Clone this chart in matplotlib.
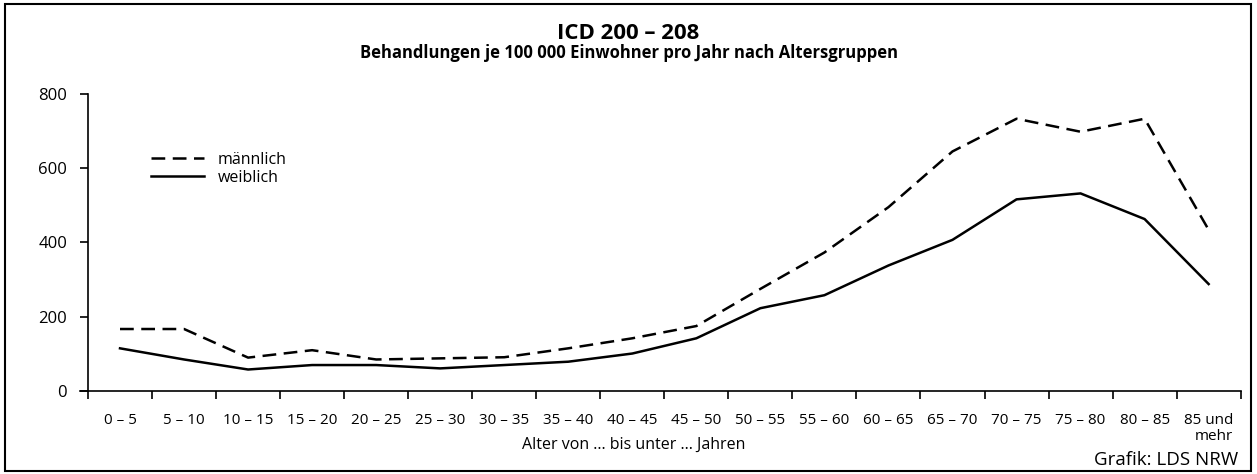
import matplotlib
matplotlib.use("Agg")
import matplotlib.pyplot as plt
from matplotlib.patches import Rectangle
import numpy as np

plt.rcParams['font.family'] = ['Open Sans', 'DejaVu Sans']

categories = ["0 – 5", "5 – 10", "10 – 15", "15 – 20", "20 – 25", "25 – 30",
              "30 – 35", "35 – 40", "40 – 45", "45 – 50", "50 – 55", "55 – 60",
              "60 – 65", "65 – 70", "70 – 75", "75 – 80", "80 – 85", "85 und\nmehr"]
maennlich = [167, 167, 90, 110, 85, 88, 91, 115, 142, 175, 275, 373,
             495, 645, 733, 698, 733, 434]
weiblich = [115, 85, 58, 70, 70, 61, 70, 79, 101, 142, 223, 258,
            338, 407, 516, 532, 463, 288]
yticks = [0, 200, 400, 600, 800]

fig = plt.figure(figsize=(12.57, 4.74), dpi=100)
ax = fig.add_axes([0.070, 0.175, 0.917, 0.627])

x = np.arange(len(categories)) + 0.5
ax.plot(x, maennlich, color='black', lw=1.8, linestyle=(0, (5.5, 3)), label='männlich')
ax.plot(x, weiblich, color='black', lw=1.8, linestyle='-', label='weiblich')

ax.set_xlim(0, len(categories))
ax.set_ylim(0, 800)
ax.set_yticks(yticks)
ax.set_yticklabels([str(v) for v in yticks], fontsize=12)
ax.set_xticks(np.arange(len(categories) + 1))
ax.set_xticklabels([])
ax.set_xticks(x, minor=True)
ax.set_xticklabels(categories, minor=True, fontsize=11, multialignment='right',
                   va='top', linespacing=1.05)
ax.tick_params(axis='x', which='minor', length=0, pad=16)
ax.tick_params(axis='x', which='major', length=6, width=1.2, direction='out')
ax.tick_params(axis='y', length=6, width=1.2, pad=9)

for s in ['top', 'right']:
    ax.spines[s].set_visible(False)
ax.spines['left'].set_linewidth(1.2)
ax.spines['bottom'].set_linewidth(1.2)
ax.spines['bottom'].set_bounds(-0.12, len(categories))

fig.text(0.504, 0.061, "Alter von ... bis unter ... Jahren", ha='center', va='center',
         fontsize=11.5)

ax.legend(loc='upper left', bbox_to_anchor=(0.115, 0.693), bbox_transform=fig.transFigure,
          frameon=False, fontsize=11.5, handlelength=3.3, handletextpad=0.9,
          labelspacing=0.12, borderaxespad=0)

fig.text(0.5, 0.930, "ICD 200 – 208", ha='center', va='center', fontsize=16,
         fontweight='bold')
fig.text(0.5, 0.888, "Behandlungen je 100 000 Einwohner pro Jahr nach Altersgruppen",
         ha='center', va='center', fontsize=12, fontweight='bold')
fig.text(0.985, 0.030, "Grafik: LDS NRW", ha='right', va='center', fontsize=13.5)

fig.patches.append(Rectangle((0.004, 0.006), 0.991, 0.985, transform=fig.transFigure,
                             fill=False, edgecolor='black', lw=1.5))

fig.savefig("out.png", dpi=100)
